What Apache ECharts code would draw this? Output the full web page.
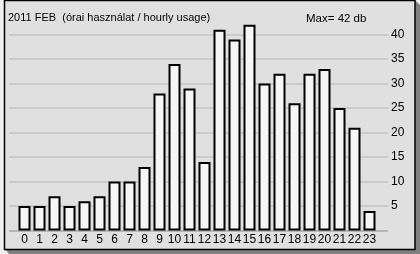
<!DOCTYPE html>
<html><head><meta charset="utf-8">
<script src="https://cdn.jsdelivr.net/npm/echarts@6/dist/echarts.min.js"></script>
<style>html,body{margin:0;padding:0;background:#f0f0f0}#c{width:420px;height:254px}</style>
</head><body><div id="c"></div>
<script>
const hours = ['0','1','2','3','4','5','6','7','8','9','10','11','12','13','14','15','16','17','18','19','20','21','22','23'];
const usage = [5,5,7,5,6,7,10,10,13,28,34,29,14,41,39,42,30,32,26,32,33,25,21,4];
const titleText = '2011 FEB  (órai használat / hourly usage)';
const yMax = 45, yInterval = 5;
const maxVal = Math.max(...usage);

const chart = echarts.init(document.getElementById('c'));
const font = '"Liberation Sans", Arial, sans-serif';
const gridColors = ['#a8a8a8','#c4c4c4','#c4c4c4','#c4c4c4','#c4c4c4','#c4c4c4','#c4c4c4','#c4c4c4','#c4c4c4','#c4c4c4'];
chart.setOption({
  animation: false,
  backgroundColor: '#f0f0f0',
  graphic: [
    {type:'polygon', z:-20, shape:{points:[[5,249],[9,254],[420,254],[420,5],[415,0],[415,249]]}, style:{fill:'#808080'}},
    {type:'rect', z:-10, shape:{x:4.5,y:0.5,width:410.5,height:249}, style:{fill:'#e0e0e0', stroke:'#000', lineWidth:1.5}}
  ],
  title: [
    {text: titleText, left: 3, top: 7, textStyle:{fontFamily:font, fontSize:11, fontWeight:'normal', color:'#000'}},
    {text: 'Max= ' + maxVal + ' db', left: 301, top: 8, textStyle:{fontFamily:font, fontSize:11.5, fontWeight:'normal', color:'#000'}}
  ],
  grid: [
    {left: 17, right: 43, top: 10.1, bottom: 23.4},
    {left: 9, right: 32, top: 10.1, bottom: 23.4}
  ],
  xAxis: [
    {type:'category', gridIndex:0, data: hours, axisLine:{show:false}, axisTick:{show:false},
     axisLabel:{color:'#000', fontFamily:font, fontSize:12, margin:3, interval:0}},
    {type:'value', gridIndex:1, min:0, max:1, show:false}
  ],
  yAxis: [
    {type:'value', gridIndex:0, min:0, max:yMax, interval:yInterval, show:false, splitLine:{show:false}},
    {type:'value', gridIndex:1, position:'right', min:0, max:yMax, interval:yInterval,
     axisLine:{show:false}, axisTick:{show:false},
     axisLabel:{color:'#000', fontFamily:font, fontSize:12, margin:3, showMinLabel:false, showMaxLabel:false},
     splitLine:{show:true, showMaxLine:false, lineStyle:{color: gridColors, width:1.5}}}
  ],
  series: [{
    type:'bar', xAxisIndex:0, yAxisIndex:0, data: usage, barWidth: 12,
    itemStyle:{color:'#f6f6f6', borderColor:'#000', borderWidth:2}
  }]
});
</script></body></html>
